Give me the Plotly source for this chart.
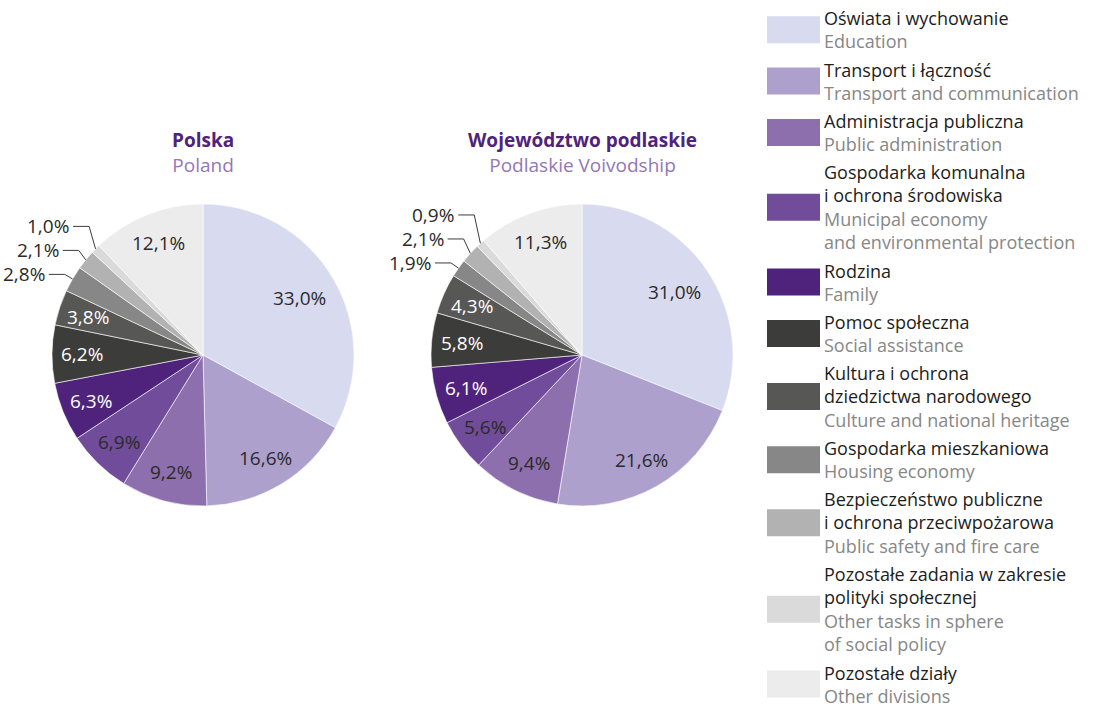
import math
import plotly.graph_objects as go

# Budget structure by division (percent of total expenditure)
categories = [
    "Oświata i wychowanie", "Transport i łączność", "Administracja publiczna",
    "Gospodarka komunalna i ochrona środowiska", "Rodzina", "Pomoc społeczna",
    "Kultura i ochrona dziedzictwa narodowego", "Gospodarka mieszkaniowa",
    "Bezpieczeństwo publiczne i ochrona przeciwpożarowa",
    "Pozostałe zadania w zakresie polityki społecznej", "Pozostałe działy",
]
poland_values = [33.0, 16.6, 9.2, 6.9, 6.3, 6.2, 3.8, 2.8, 2.1, 1.0, 12.1]
podlaskie_values = [31.0, 21.6, 9.4, 5.6, 6.1, 5.8, 4.3, 1.9, 2.1, 0.9, 11.3]

colors = ["#d8dbf0", "#ada0cc", "#8d6fae", "#704c9a", "#4f237c", "#3c3c3b",
          "#575756", "#878787", "#b2b2b2", "#dadada", "#ececec"]
label_colors = ["#2b2a29", "#2b2a29", "#2b2a29", "#2b2a29", "#ffffff", "#ffffff",
                "#ffffff", "#2b2a29", "#2b2a29", "#2b2a29", "#2b2a29"]

legend_pl = [
    ["Oświata i wychowanie"], ["Transport i łączność"], ["Administracja publiczna"],
    ["Gospodarka komunalna", "i ochrona środowiska"], ["Rodzina"], ["Pomoc społeczna"],
    ["Kultura i ochrona", "dziedzictwa narodowego"], ["Gospodarka mieszkaniowa"],
    ["Bezpieczeństwo publiczne", "i ochrona przeciwpożarowa"],
    ["Pozostałe zadania w zakresie", "polityki społecznej"], ["Pozostałe działy"],
]
legend_en = [
    ["Education"], ["Transport and communication"], ["Public administration"],
    ["Municipal economy", "and environmental protection"], ["Family"], ["Social assistance"],
    ["Culture and national heritage"], ["Housing economy"], ["Public safety and fire care"],
    ["Other tasks in sphere", "of social policy"], ["Other divisions"],
]

W, H = 1103, 709
FONT = "Open Sans"
R = 151


def px(x):
    return x / W


def py(y):
    return 1 - y / H


def fmt(v):
    return f"{v:.1f}".replace(".", ",") + "%"


fig = go.Figure()
annotations = []
shapes = []

pies = [
    dict(values=poland_values, cx=203, cy=355, title="Polska", subtitle="Poland"),
    dict(values=podlaskie_values, cx=582, cy=355, title="Województwo podlaskie",
         subtitle="Podlaskie Voivodship"),
]

for p in pies:
    cx, cy, vals = p["cx"], p["cy"], p["values"]
    fig.add_trace(go.Pie(
        values=vals, labels=categories, sort=False, direction="clockwise", rotation=0,
        marker=dict(colors=colors, line=dict(color="#ffffff", width=0.6)),
        textinfo="none", hoverinfo="label+percent", showlegend=False,
        domain=dict(x=[px(cx - R), px(cx + R)], y=[py(cy + R), py(cy - R)]),
    ))
    annotations.append(dict(
        x=px(cx), y=py(152),
        text=(f"<b><span style='color:#4f237c'>{p['title']}</span></b><br>"
              f"<span style='color:#9376b8'>{p['subtitle']}</span>"),
        showarrow=False, xanchor="center", yanchor="middle", align="center",
        font=dict(family=FONT, size=19, color="#4f237c")))

    total = sum(vals)
    cum = 0.0
    prev_elbow_y = None
    for i, v in enumerate(vals):
        start = cum / total * 360
        cum += v
        end = cum / total * 360
        mid = math.radians((start + end) / 2)
        s, c = math.sin(mid), math.cos(mid)
        if v >= 3:
            rf = 0.74 if v > 25 else 0.8
            lx, ly = cx + rf * R * s, cy - rf * R * c
            annotations.append(dict(x=px(lx), y=py(ly), text=fmt(v), showarrow=False,
                                    xanchor="center", yanchor="middle",
                                    font=dict(family=FONT, size=19, color=label_colors[i])))
        else:
            ex, ey = cx + R * s, cy - R * c
            bx, by = cx + 1.06 * R * s, cy - 1.06 * R * c
            if prev_elbow_y is not None and by > prev_elbow_y - 24:
                by = prev_elbow_y - 24
            prev_elbow_y = by
            shapes.append(dict(type="line", xref="paper", yref="paper",
                               x0=px(ex), y0=py(ey), x1=px(bx), y1=py(by),
                               line=dict(color="#3c3c3b", width=1)))
            shapes.append(dict(type="line", xref="paper", yref="paper",
                               x0=px(bx), y0=py(by), x1=px(bx - 16), y1=py(by),
                               line=dict(color="#3c3c3b", width=1)))
            annotations.append(dict(x=px(bx - 18), y=py(by), text=fmt(v), showarrow=False,
                                    xanchor="right", yanchor="middle",
                                    font=dict(family=FONT, size=19, color="#2b2a29")))

# Legend drawn as swatches plus two-tone text (one block per entry)
LEG_SIZE = 18
LINE = LEG_SIZE * 1.3
GAP = 28
y = 18
for i in range(len(categories)):
    parts = [f"<span style='color:#1d1d1b'>{t}</span>" for t in legend_pl[i]]
    parts += [f"<span style='color:#878787'>{t}</span>" for t in legend_en[i]]
    n = len(parts)
    first_y = y
    last_y = y + (n - 1) * LINE
    mid_y = (first_y + last_y) / 2
    annotations.append(dict(x=px(822), y=py(mid_y), text="<br>".join(parts),
                            showarrow=False, xanchor="left", yanchor="middle", align="left",
                            font=dict(family=FONT, size=LEG_SIZE, color="#1d1d1b")))
    shapes.append(dict(type="rect", xref="paper", yref="paper",
                       x0=px(767), x1=px(820), y0=py(mid_y + 13.5), y1=py(mid_y - 13.5),
                       line=dict(width=0), fillcolor=colors[i]))
    y = last_y + GAP

fig.update_layout(
    width=W, height=H, margin=dict(l=0, r=0, t=0, b=0),
    paper_bgcolor="#ffffff", plot_bgcolor="#ffffff",
    annotations=annotations, shapes=shapes,
    font=dict(family=FONT),
)

fig.write_html("out.html")
